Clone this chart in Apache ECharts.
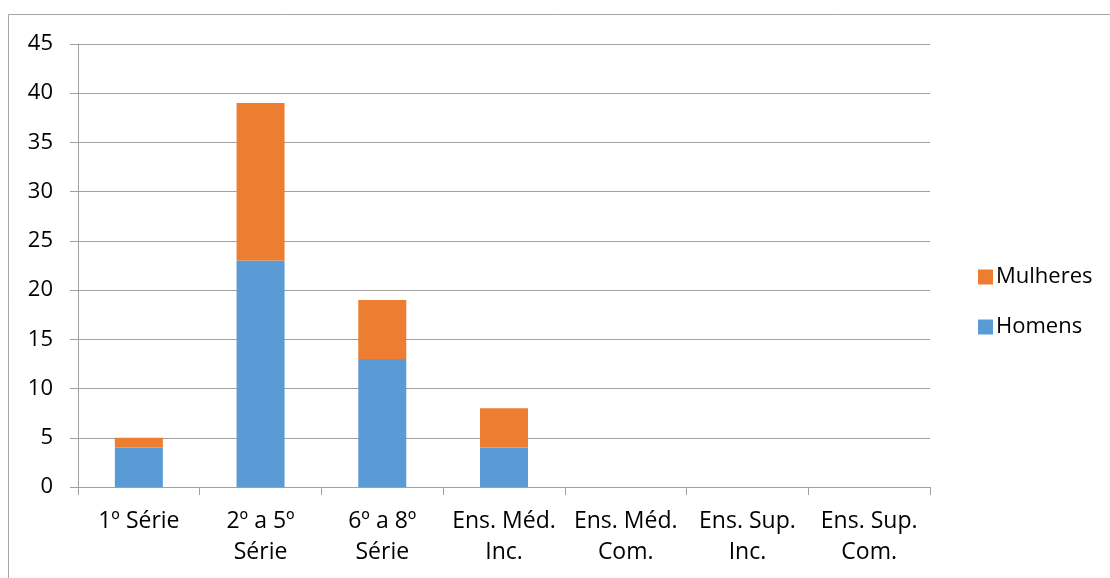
<!DOCTYPE html>
<html>
<head>
<meta charset="utf-8">
<style>
  html, body { margin: 0; padding: 0; background: #fff; }
  #chart { width: 1110px; height: 578px; }
</style>
<script src="https://cdn.jsdelivr.net/npm/echarts@6/dist/echarts.min.js"></script>
</head>
<body>
<div id="chart"></div>
<script>
// Escolaridade por sexo
const categories = ['1º Série', '2º a 5º\nSérie', '6º a 8º\nSérie', 'Ens. Méd.\nInc.', 'Ens. Méd.\nCom.', 'Ens. Sup.\nInc.', 'Ens. Sup.\nCom.'];
const homens = [4, 23, 13, 4, 0, 0, 0];
const mulheres = [1, 16, 6, 4, 0, 0, 0];

const FONT = '"Open Sans", "Noto Sans", sans-serif';
const chart = echarts.init(document.getElementById('chart'), null, { renderer: 'canvas' });

chart.setOption({
  animation: false,
  textStyle: { fontFamily: FONT, color: '#000' },
  graphic: [{
    type: 'rect',
    shape: { x: 8.5, y: 14.5, width: 1200, height: 700 },
    style: { fill: 'none', stroke: '#a6a6a6', lineWidth: 1 },
    silent: true
  }],
  legend: {
    orient: 'vertical',
    left: 973,
    top: 261,
    itemWidth: 15,
    itemHeight: 15,
    itemGap: 28,
    icon: 'rect',
    data: ['Mulheres', 'Homens'],
    textStyle: { fontFamily: FONT, fontSize: 22, color: '#000', padding: [0, 0, 0, -2] }
  },
  grid: { left: 78, right: 180, top: 44, bottom: 91, containLabel: false },
  xAxis: {
    type: 'category',
    data: categories,
    axisLine: { lineStyle: { color: '#a0a0a0' } },
    axisTick: { show: true, length: 8, lineStyle: { color: '#a0a0a0' } },
    axisLabel: { fontFamily: FONT, fontSize: 23, color: '#000', lineHeight: 31, margin: 19, interval: 0 }
  },
  yAxis: {
    type: 'value',
    min: 0,
    max: 45,
    interval: 5,
    axisLine: { show: true, lineStyle: { color: '#a0a0a0' } },
    axisTick: { show: true, length: 8, lineStyle: { color: '#a0a0a0' } },
    axisLabel: { fontFamily: FONT, fontSize: 22, color: '#000', margin: 25 },
    splitLine: { lineStyle: { color: '#a0a0a0' } }
  },
  series: [
    {
      name: 'Homens',
      type: 'bar',
      stack: 'total',
      barWidth: 48,
      data: homens,
      itemStyle: { color: '#5b9bd5' }
    },
    {
      name: 'Mulheres',
      type: 'bar',
      stack: 'total',
      barWidth: 48,
      data: mulheres,
      itemStyle: { color: '#ed7d31' }
    }
  ]
});
</script>
</body>
</html>
